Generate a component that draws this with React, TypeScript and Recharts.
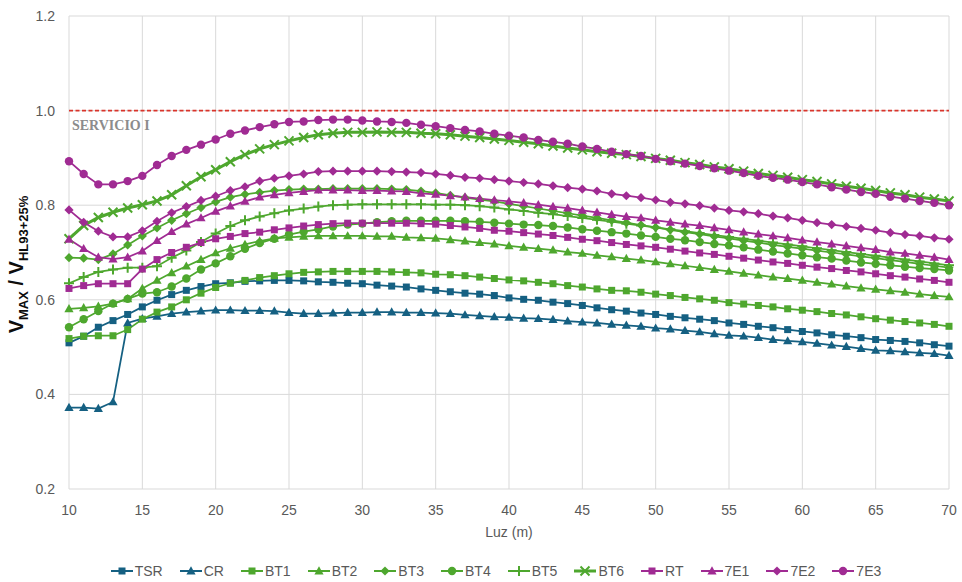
import React from 'react'
import { LineChart, Line, XAxis, YAxis, CartesianGrid, ReferenceLine, Label } from 'recharts'

// span of the girder (m)
const LUZ = [
  10, 11, 12, 13, 14, 15, 16, 17, 18, 19, 20, 21, 22, 23, 24, 25, 26, 27, 28, 29, 30,
  31, 32, 33, 34, 35, 36, 37, 38, 39, 40, 41, 42, 43, 44, 45, 46, 47, 48, 49, 50,
  51, 52, 53, 54, 55, 56, 57, 58, 59, 60, 61, 62, 63, 64, 65, 66, 67, 68, 69, 70,
]

const TSR = [
  0.509, 0.523, 0.542, 0.556, 0.569, 0.585, 0.599, 0.611, 0.620, 0.628, 0.634,
  0.636, 0.639, 0.640, 0.641, 0.641, 0.640, 0.638, 0.637, 0.635, 0.634,
  0.631, 0.629, 0.627, 0.623, 0.620, 0.617, 0.614, 0.612, 0.609, 0.604,
  0.601, 0.599, 0.595, 0.592, 0.588, 0.583, 0.579, 0.576, 0.572, 0.569,
  0.565, 0.562, 0.559, 0.556, 0.551, 0.548, 0.544, 0.541, 0.537, 0.533,
  0.530, 0.526, 0.523, 0.520, 0.516, 0.514, 0.512, 0.509, 0.505, 0.502,
]
const CR = [
  0.372, 0.372, 0.370, 0.384, 0.551, 0.560, 0.565, 0.571, 0.574, 0.576, 0.578,
  0.578, 0.577, 0.577, 0.576, 0.573, 0.571, 0.571, 0.572, 0.573, 0.573,
  0.574, 0.574, 0.573, 0.573, 0.572, 0.571, 0.568, 0.566, 0.564, 0.563,
  0.561, 0.560, 0.558, 0.555, 0.553, 0.551, 0.548, 0.546, 0.544, 0.540,
  0.538, 0.535, 0.532, 0.528, 0.525, 0.523, 0.520, 0.516, 0.513, 0.511,
  0.508, 0.504, 0.501, 0.497, 0.493, 0.492, 0.490, 0.488, 0.486, 0.482,
]
const BT1 = [
  0.518, 0.523, 0.524, 0.524, 0.537, 0.559, 0.574, 0.585, 0.600, 0.614, 0.626,
  0.635, 0.641, 0.647, 0.651, 0.655, 0.658, 0.659, 0.660, 0.660, 0.660,
  0.660, 0.659, 0.658, 0.657, 0.654, 0.653, 0.651, 0.648, 0.645, 0.642,
  0.640, 0.637, 0.634, 0.630, 0.627, 0.623, 0.620, 0.619, 0.616, 0.612,
  0.609, 0.605, 0.602, 0.599, 0.594, 0.591, 0.588, 0.585, 0.581, 0.578,
  0.575, 0.571, 0.568, 0.564, 0.560, 0.557, 0.554, 0.551, 0.548, 0.544,
]
const BT2 = [
  0.581, 0.583, 0.586, 0.592, 0.602, 0.624, 0.641, 0.657, 0.671, 0.685, 0.699,
  0.709, 0.717, 0.724, 0.730, 0.732, 0.734, 0.735, 0.735, 0.735, 0.735,
  0.734, 0.734, 0.732, 0.731, 0.730, 0.727, 0.724, 0.721, 0.718, 0.714,
  0.711, 0.708, 0.705, 0.701, 0.698, 0.694, 0.691, 0.687, 0.684, 0.680,
  0.676, 0.672, 0.668, 0.664, 0.660, 0.656, 0.652, 0.648, 0.645, 0.641,
  0.637, 0.633, 0.629, 0.625, 0.622, 0.619, 0.616, 0.612, 0.609, 0.606,
]
const BT3 = [
  0.689, 0.688, 0.685, 0.697, 0.716, 0.735, 0.752, 0.768, 0.782, 0.795, 0.807,
  0.817, 0.823, 0.827, 0.831, 0.833, 0.834, 0.834, 0.835, 0.835, 0.835,
  0.835, 0.834, 0.833, 0.830, 0.826, 0.821, 0.816, 0.812, 0.808, 0.803,
  0.798, 0.793, 0.788, 0.783, 0.778, 0.773, 0.768, 0.763, 0.758, 0.753,
  0.748, 0.743, 0.739, 0.734, 0.730, 0.725, 0.721, 0.716, 0.712, 0.708,
  0.704, 0.700, 0.696, 0.692, 0.688, 0.684, 0.680, 0.676, 0.672, 0.668,
]
const BT4 = [
  0.542, 0.559, 0.576, 0.592, 0.602, 0.613, 0.616, 0.628, 0.645, 0.664, 0.677,
  0.692, 0.708, 0.720, 0.729, 0.738, 0.744, 0.749, 0.755, 0.759, 0.761,
  0.764, 0.766, 0.767, 0.767, 0.767, 0.767, 0.766, 0.765, 0.763, 0.761,
  0.759, 0.758, 0.756, 0.753, 0.749, 0.746, 0.743, 0.740, 0.736, 0.733,
  0.729, 0.726, 0.722, 0.718, 0.715, 0.711, 0.706, 0.702, 0.698, 0.694,
  0.690, 0.687, 0.683, 0.679, 0.676, 0.673, 0.670, 0.667, 0.665, 0.662,
]
const BT5 = [
  0.635, 0.648, 0.659, 0.664, 0.668, 0.668, 0.671, 0.689, 0.704, 0.722, 0.740,
  0.756, 0.768, 0.776, 0.783, 0.789, 0.793, 0.797, 0.800, 0.801, 0.802,
  0.802, 0.802, 0.802, 0.802, 0.801, 0.801, 0.800, 0.798, 0.795, 0.791,
  0.788, 0.784, 0.781, 0.777, 0.773, 0.769, 0.765, 0.761, 0.757, 0.753,
  0.749, 0.745, 0.741, 0.737, 0.733, 0.729, 0.725, 0.721, 0.717, 0.713,
  0.709, 0.705, 0.701, 0.697, 0.693, 0.689, 0.685, 0.681, 0.677, 0.673,
]
const BT6 = [
  0.729, 0.757, 0.774, 0.785, 0.794, 0.801, 0.809, 0.822, 0.841, 0.860, 0.875,
  0.892, 0.907, 0.919, 0.928, 0.936, 0.943, 0.949, 0.952, 0.954, 0.954,
  0.955, 0.954, 0.954, 0.952, 0.951, 0.949, 0.946, 0.943, 0.940, 0.937,
  0.933, 0.930, 0.925, 0.921, 0.917, 0.913, 0.910, 0.907, 0.903, 0.899,
  0.895, 0.890, 0.886, 0.881, 0.877, 0.872, 0.867, 0.863, 0.859, 0.854,
  0.850, 0.845, 0.840, 0.836, 0.831, 0.826, 0.822, 0.817, 0.813, 0.809,
]
const RT = [
  0.624, 0.630, 0.634, 0.634, 0.634, 0.665, 0.685, 0.700, 0.711, 0.721, 0.729,
  0.734, 0.740, 0.743, 0.748, 0.752, 0.756, 0.759, 0.761, 0.762, 0.762,
  0.762, 0.762, 0.762, 0.761, 0.760, 0.757, 0.754, 0.751, 0.747, 0.745,
  0.742, 0.739, 0.736, 0.732, 0.728, 0.725, 0.721, 0.717, 0.714, 0.711,
  0.707, 0.703, 0.699, 0.696, 0.692, 0.688, 0.684, 0.680, 0.677, 0.673,
  0.669, 0.666, 0.662, 0.659, 0.655, 0.651, 0.648, 0.644, 0.641, 0.637,
]
const E1 = [
  0.728, 0.708, 0.690, 0.686, 0.690, 0.703, 0.725, 0.744, 0.760, 0.773, 0.787,
  0.798, 0.808, 0.817, 0.822, 0.826, 0.829, 0.832, 0.832, 0.832, 0.831,
  0.831, 0.830, 0.829, 0.825, 0.823, 0.820, 0.817, 0.814, 0.811, 0.808,
  0.805, 0.801, 0.797, 0.794, 0.789, 0.785, 0.780, 0.776, 0.773, 0.768,
  0.764, 0.760, 0.757, 0.752, 0.748, 0.743, 0.739, 0.735, 0.731, 0.726,
  0.722, 0.718, 0.714, 0.710, 0.706, 0.701, 0.698, 0.694, 0.690, 0.685,
]
const E2 = [
  0.790, 0.764, 0.745, 0.733, 0.733, 0.746, 0.766, 0.784, 0.797, 0.810, 0.819,
  0.831, 0.839, 0.851, 0.857, 0.862, 0.866, 0.871, 0.872, 0.872, 0.872,
  0.872, 0.871, 0.870, 0.869, 0.866, 0.863, 0.859, 0.857, 0.854, 0.851,
  0.848, 0.845, 0.841, 0.837, 0.834, 0.830, 0.824, 0.820, 0.816, 0.811,
  0.806, 0.803, 0.799, 0.794, 0.789, 0.786, 0.782, 0.777, 0.773, 0.768,
  0.763, 0.759, 0.755, 0.751, 0.747, 0.742, 0.738, 0.735, 0.731, 0.728,
]
const E3 = [
  0.893, 0.866, 0.844, 0.844, 0.851, 0.862, 0.885, 0.904, 0.917, 0.928, 0.939,
  0.951, 0.958, 0.965, 0.971, 0.976, 0.977, 0.980, 0.981, 0.981, 0.979,
  0.977, 0.976, 0.974, 0.970, 0.967, 0.963, 0.959, 0.956, 0.951, 0.947,
  0.943, 0.938, 0.934, 0.930, 0.924, 0.919, 0.913, 0.908, 0.904, 0.898,
  0.893, 0.888, 0.883, 0.878, 0.873, 0.868, 0.862, 0.858, 0.854, 0.849,
  0.844, 0.838, 0.833, 0.828, 0.824, 0.818, 0.814, 0.809, 0.805, 0.800,
]

const X_TICKS = [10, 15, 20, 25, 30, 35, 40, 45, 50, 55, 60, 65, 70]
const Y_TICKS = [0.2, 0.4, 0.6, 0.8, 1.0, 1.2]
const SERVICIO = 1.0

const BLUE = '#156082'
const GREEN = '#4EA72E'
const PURPLE = '#A02B93'
const FONT = '"Liberation Sans", Arial, sans-serif'

type Shape = 'square' | 'triangle' | 'diamond' | 'circle' | 'plus' | 'cross'

const SERIES: { name: string; values: number[]; color: string; shape: Shape; width?: number }[] = [
  { name: 'TSR', values: TSR, color: BLUE, shape: 'square' },
  { name: 'CR', values: CR, color: BLUE, shape: 'triangle' },
  { name: 'BT1', values: BT1, color: GREEN, shape: 'square' },
  { name: 'BT2', values: BT2, color: GREEN, shape: 'triangle' },
  { name: 'BT3', values: BT3, color: GREEN, shape: 'diamond' },
  { name: 'BT4', values: BT4, color: GREEN, shape: 'circle' },
  { name: 'BT5', values: BT5, color: GREEN, shape: 'plus' },
  { name: 'BT6', values: BT6, color: GREEN, shape: 'cross', width: 3 },
  { name: 'RT', values: RT, color: PURPLE, shape: 'square' },
  { name: '7E1', values: E1, color: PURPLE, shape: 'triangle' },
  { name: '7E2', values: E2, color: PURPLE, shape: 'diamond' },
  { name: '7E3', values: E3, color: PURPLE, shape: 'circle' },
]

const data = LUZ.map((x, i) => {
  const row: Record<string, number> = { x }
  SERIES.forEach((s) => { row[s.name] = s.values[i] })
  return row
})

function Marker({ cx, cy, shape, color }: { cx: number; cy: number; shape: Shape; color: string }) {
  if (cx == null || cy == null) return null
  switch (shape) {
    case 'square':
      return <rect x={cx - 3.5} y={cy - 3.5} width={7} height={7} fill={color} />
    case 'triangle':
      return <polygon points={`${cx},${cy - 4.8} ${cx + 4.6},${cy + 3.4} ${cx - 4.6},${cy + 3.4}`} fill={color} />
    case 'diamond':
      return <polygon points={`${cx},${cy - 4.6} ${cx + 4.6},${cy} ${cx},${cy + 4.6} ${cx - 4.6},${cy}`} fill={color} />
    case 'circle':
      return <circle cx={cx} cy={cy} r={4.2} fill={color} />
    case 'plus':
      return <path d={`M${cx - 5},${cy}H${cx + 5}M${cx},${cy - 5}V${cy + 5}`} stroke={color} strokeWidth={2} fill="none" />
    case 'cross':
      return <path d={`M${cx - 4.5},${cy - 4.5}L${cx + 4.5},${cy + 4.5}M${cx - 4.5},${cy + 4.5}L${cx + 4.5},${cy - 4.5}`} stroke={color} strokeWidth={2} fill="none" />
  }
  return null
}

function YTitle(props: any) {
  const vb = props.viewBox || { x: 0, y: 16, width: 69, height: 473 }
  const cx = vb.x + 23
  const cy = vb.y + vb.height / 2 + 12
  return (
    <text
      x={cx}
      y={cy}
      transform={`rotate(-90 ${cx} ${cy})`}
      textAnchor="middle"
      fill="#0d0d0d"
      fontFamily={FONT}
      fontWeight="bold"
      fontSize={20}
    >
      <tspan>V</tspan>
      <tspan fontSize={13} dy={5}>MAX</tspan>
      <tspan dy={-5}> / V</tspan>
      <tspan fontSize={13} dy={5}>HL93+25%</tspan>
    </text>
  )
}

function ServicioLabel(props: any) {
  const vb = props.viewBox || { x: 69, y: 110 }
  return (
    <text x={vb.x + 3} y={vb.y + 19} fill="#8c8c8c" fontFamily='"Liberation Serif", "Times New Roman", serif' fontWeight="bold" fontSize={14}>
      SERVICIO I
    </text>
  )
}

function LegendIcon({ color, shape, width }: { color: string; shape: Shape; width?: number }) {
  return (
    <svg width={22} height={12} style={{ display: 'block' }}>
      <line x1={0} y1={6} x2={22} y2={6} stroke={color} strokeWidth={width ?? 2} />
      <Marker cx={11} cy={6} shape={shape} color={color} />
    </svg>
  )
}

export default function App() {
  return (
    <div style={{ position: 'absolute', left: 0, top: 0, width: 962, height: 582, background: '#fff', fontFamily: FONT }}>
      <LineChart width={962} height={582} data={data} margin={{ top: 16, right: 13, bottom: 0, left: 0 }}>
        <CartesianGrid stroke="#d9d9d9" />
        <XAxis
          dataKey="x"
          type="number"
          domain={[10, 70]}
          ticks={X_TICKS}
          axisLine={false}
          tickLine={false}
          tickMargin={10}
          height={93}
          tick={{ fontSize: 14, fill: '#595959', fontFamily: FONT }}
        >
          <Label value="Luz (m)" position="insideTop" offset={38} fill="#595959" fontSize={14} fontFamily={FONT} />
        </XAxis>
        <YAxis
          domain={[0.2, 1.2]}
          ticks={Y_TICKS}
          axisLine={false}
          tickLine={false}
          tickMargin={8}
          width={69}
          tickFormatter={(v: number) => v.toFixed(1)}
          tick={{ fontSize: 14, fill: '#595959', fontFamily: FONT }}
        >
          <Label content={<YTitle />} />
        </YAxis>
        <ReferenceLine y={SERVICIO} stroke="#d9342b" strokeWidth={1.75} strokeDasharray="4 2.5" label={<ServicioLabel />} />
        {SERIES.map((s) => (
          <Line
            key={s.name}
            dataKey={s.name}
            type="linear"
            stroke={s.color}
            strokeWidth={s.width ?? 1.75}
            isAnimationActive={false}
            dot={(p: any) => <Marker key={`${s.name}-${p.index}`} cx={p.cx} cy={p.cy} shape={s.shape} color={s.color} />}
            activeDot={false}
          />
        ))}
      </LineChart>
      <div
        style={{
          position: 'absolute',
          left: 0,
          top: 563,
          width: 962,
          paddingLeft: 30,
          boxSizing: 'border-box',
          display: 'flex',
          justifyContent: 'center',
          gap: 17,
          fontSize: 14,
          color: '#595959',
        }}
      >
        {SERIES.map((s) => (
          <div key={s.name} style={{ display: 'flex', alignItems: 'center', gap: 2 }}>
            <LegendIcon color={s.color} shape={s.shape} width={s.width} />
            <span>{s.name}</span>
          </div>
        ))}
      </div>
    </div>
  )
}
